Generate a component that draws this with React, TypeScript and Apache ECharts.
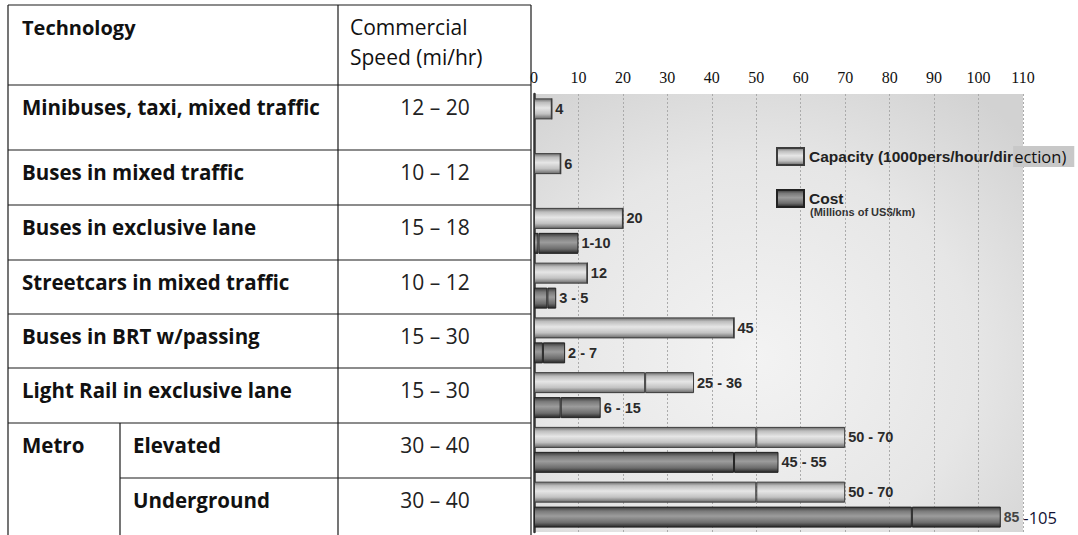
import React, { useEffect, useRef } from "react";
import * as echarts from "echarts";

// Urban transport technologies: speed table plus capacity / cost ranges
const technologies = [
  "Minibuses, taxi, mixed traffic",
  "Buses in mixed traffic",
  "Buses in exclusive lane",
  "Streetcars in mixed traffic",
  "Buses in BRT w/passing",
  "Light Rail in exclusive lane",
  "Elevated",
  "Underground",
];
const metroGroup = "Metro";
const speeds = ["12 – 20", "10 – 12", "15 – 18", "10 – 12", "15 – 30", "15 – 30", "30 – 40", "30 – 40"];

// Capacity in 1000 passengers / hour / direction
const capacityLow = [4, 6, 20, 12, 45, 25, 50, 50];
const capacityHigh = [4, 6, 20, 12, 45, 36, 70, 70];
// Cost in millions of US$ per km
const costLow: (number | null)[] = [null, null, 1, 3, 2, 6, 45, 85];
const costHigh: (number | null)[] = [null, null, 10, 5, 7, 15, 55, 105];
const costSeparator = ["", "", "-", " - ", " - ", " - ", " - ", " "];

const xMin = 0;
const xMax = 110;
const xStep = 10;

const capacityName = "Capacity (1000pers/hour/direction)";
const costName = "Cost";

// table geometry
const tableLeft = 8;
const tableRight = 531;
const tableTop = 5;
const tableBottom = 535;
const speedColX = 338;
const metroColX = 120;
const rowTops = [85, 150, 205, 260, 314, 368, 423, 478];

const TEXT_FONT = "'Open Sans', 'Noto Sans', sans-serif";
const LABEL_FONT = "'Liberation Sans', Arial, sans-serif";

const capacityFill = new echarts.graphic.LinearGradient(0, 0, 0, 1, [
  { offset: 0, color: "#6e6e6e" },
  { offset: 0.18, color: "#bdbdbd" },
  { offset: 0.45, color: "#e6e6e6" },
  { offset: 0.75, color: "#c2c2c2" },
  { offset: 1, color: "#6a6a6a" },
]);
const costFill = new echarts.graphic.LinearGradient(0, 0, 0, 1, [
  { offset: 0, color: "#3a3a3a" },
  { offset: 0.2, color: "#7a7a7a" },
  { offset: 0.45, color: "#9c9c9c" },
  { offset: 0.78, color: "#6c6c6c" },
  { offset: 1, color: "#262626" },
]);

function buildTable(): any[] {
  const els: any[] = [];
  const line = (x1: number, y1: number, x2: number, y2: number) => ({
    type: "line",
    shape: { x1, y1, x2, y2 },
    style: { stroke: "#1a1a1a", lineWidth: 1.2 },
    silent: true,
  });
  const text = (t: string, x: number, y: number, opts: any = {}) => ({
    type: "text",
    x,
    y,
    silent: true,
    style: {
      text: t,
      fontFamily: TEXT_FONT,
      fontSize: 20.5,
      fontWeight: "bold",
      fill: "#111",
      align: "left",
      verticalAlign: "middle",
      ...opts,
    },
  });

  els.push(line(tableLeft, tableTop, tableRight, tableTop));
  els.push(line(tableLeft, tableTop, tableLeft, tableBottom));
  els.push(line(tableRight, tableTop, tableRight, tableBottom));
  els.push(line(speedColX, tableTop, speedColX, tableBottom));
  els.push(line(metroColX, rowTops[6], metroColX, tableBottom));
  rowTops.forEach((y, i) => {
    els.push(line(i === 7 ? metroColX : tableLeft, y, tableRight, y));
  });

  els.push(text("Technology", 22, 27, { fontSize: 20 }));
  els.push(text("Commercial", 350, 27, { fontWeight: "normal", fontSize: 21 }));
  els.push(text("Speed (mi/hr)", 350, 57, { fontWeight: "normal", fontSize: 21 }));

  technologies.forEach((name, i) => {
    const y = rowTops[i] + 22;
    const x = i >= 6 ? 133 : 22;
    els.push(text(name, x, y));
    els.push(text(speeds[i], 435, y, { fontWeight: "normal", fontSize: 21, align: "center", fill: "#222" }));
  });
  els.push(text(metroGroup, 22, rowTops[6] + 22));

  // legend sub-caption for cost units
  els.push({
    type: "text",
    x: 810,
    y: 212,
    silent: true,
    style: {
      text: "(Millions of US$/km)",
      fontFamily: LABEL_FONT,
      fontSize: 11,
      fontWeight: "bold",
      fill: "#333",
      verticalAlign: "middle",
    },
  });
  return els;
}

const barLabel = {
  show: true,
  position: "right",
  distance: 3,
  fontFamily: LABEL_FONT,
  fontWeight: "bold",
  fontSize: 14.5,
  color: "#2a2a2a",
};

const legendBase = {
  orient: "vertical",
  left: 776,
  padding: 0,
  itemWidth: 27,
  itemHeight: 17,
  icon: "rect",
  textStyle: {
    fontFamily: LABEL_FONT,
    fontWeight: "bold",
    fontSize: 15.5,
    color: "#222",
  },
};

export default function App() {
  const ref = useRef<HTMLDivElement>(null);

  useEffect(() => {
    if (!ref.current) return;
    const chart = echarts.init(ref.current, null, { renderer: "svg" });

    const capacityRange = capacityHigh.map((h, i) => h - capacityLow[i]);
    const costRange = costHigh.map((h, i) => (h == null || costLow[i] == null ? null : h - (costLow[i] as number)));

    const option: any = {
      animation: false,
      backgroundColor: "#ffffff",
      grid: {
        left: 534,
        right: 55,
        top: 94,
        bottom: 3,
        show: true,
        borderWidth: 0,
        backgroundColor: new echarts.graphic.RadialGradient(0.45, 0.6, 0.75, [
          { offset: 0, color: "#f3f3f3" },
          { offset: 0.6, color: "#e6e6e6" },
          { offset: 1, color: "#d2d2d2" },
        ]),
      },
      xAxis: {
        type: "value",
        position: "top",
        min: xMin,
        max: xMax,
        interval: xStep,
        axisLine: { show: false },
        axisTick: { show: false },
        axisLabel: {
          margin: 9,
          fontFamily: "'Liberation Serif', 'Times New Roman', serif",
          fontSize: 16,
          color: "#111",
        },
        splitLine: { show: true, lineStyle: { color: "#ababab", type: [2, 2], width: 1 } },
      },
      yAxis: {
        type: "category",
        data: technologies,
        inverse: true,
        position: "right",
        axisLine: { show: true, lineStyle: { color: "#333", width: 2.5 } },
        axisTick: { show: false },
        axisLabel: { show: false },
        splitLine: { show: false },
      },
      legend: [
        {
          ...legendBase,
          top: 146,
          data: [capacityName],
          formatter: () => "Capacity (1000pers/hour/dir{h|ection)}",
          textStyle: {
            ...legendBase.textStyle,
            rich: {
              h: {
                fontFamily: TEXT_FONT,
                fontWeight: "normal",
                fontSize: 16.5,
                color: "#111",
                backgroundColor: "#c8c8c8",
                lineHeight: 20,
                padding: [2, 8, 2, 1],
              },
            },
          },
        },
        {
          ...legendBase,
          top: 189,
          data: [costName],
        },
      ],
      series: [
        {
          name: capacityName,
          type: "bar",
          stack: "capacity",
          barWidth: 21,
          barGap: "19%",
          data: capacityLow,
          itemStyle: { color: capacityFill, borderColor: "#3c3c3c", borderWidth: 1 },
        },
        {
          name: "capacityRange",
          type: "bar",
          stack: "capacity",
          barWidth: 21,
          barGap: "19%",
          data: capacityRange,
          itemStyle: { color: capacityFill, borderColor: "#3c3c3c", borderWidth: 1 },
          label: {
            ...barLabel,
            formatter: (p: any) => {
              const lo = capacityLow[p.dataIndex];
              const hi = capacityHigh[p.dataIndex];
              return lo === hi ? `${hi}` : `${lo} - ${hi}`;
            },
          },
        },
        {
          name: costName,
          type: "bar",
          stack: "cost",
          barWidth: 21,
          barGap: "19%",
          data: costLow,
          itemStyle: { color: costFill, borderColor: "#222", borderWidth: 1 },
        },
        {
          name: "costRange",
          type: "bar",
          stack: "cost",
          barWidth: 21,
          barGap: "19%",
          data: costRange,
          itemStyle: { color: costFill, borderColor: "#222", borderWidth: 1 },
          label: {
            ...barLabel,
            formatter: (p: any) => {
              const i = p.dataIndex;
              const lo = costLow[i];
              const hi = costHigh[i];
              if (lo == null || hi == null) return "";
              if (hi >= 100) return `{a|${lo}}${costSeparator[i]}{b|-${hi}}`;
              return `${lo}${costSeparator[i]}${hi}`;
            },
            rich: {
              a: { fontFamily: LABEL_FONT, fontWeight: "bold", fontSize: 14, color: "#444" },
              b: { fontFamily: TEXT_FONT, fontWeight: "normal", fontSize: 16.5, color: "#111133" },
            },
          },
        },
      ],
      graphic: buildTable(),
    };

    chart.setOption(option);
    return () => chart.dispose();
  }, []);

  return (
    <div
      ref={ref}
      style={{ position: "absolute", left: 0, top: 0, width: 1078, height: 535, background: "#fff" }}
    />
  );
}
